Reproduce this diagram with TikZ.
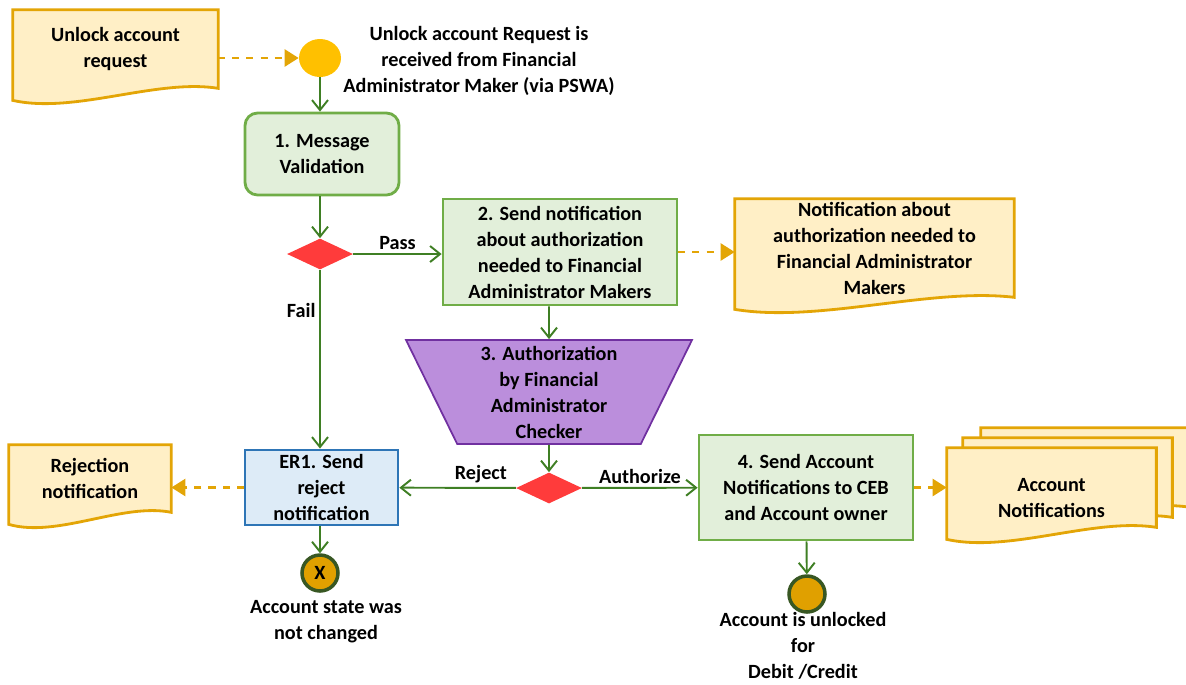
\documentclass[tikz,border=0pt]{standalone}
\usepackage{fontspec}
\setmainfont{Carlito}
\definecolor{flujoVerde}{HTML}{70AD47}
\definecolor{flujoVerdeClaro}{HTML}{E2EFDA}
\definecolor{flujoFlecha}{HTML}{3F7F24}
\definecolor{flujoOro}{HTML}{E3A506}
\definecolor{flujoCrema}{HTML}{FFEFC6}
\definecolor{flujoAzul}{HTML}{2E75B6}
\definecolor{flujoAzulClaro}{HTML}{DDEBF7}
\definecolor{flujoMorado}{HTML}{7030A0}
\definecolor{flujoLila}{HTML}{BB8EDC}
\definecolor{flujoRojo}{HTML}{FF3B3B}
\definecolor{flujoAmarillo}{HTML}{FFC000}
\definecolor{flujoOcre}{HTML}{E0A000}
\definecolor{flujoOscuro}{HTML}{385723}
\usetikzlibrary{
	arrows.meta,
	positioning,
	calc,
	shapes.geometric,
	backgrounds
}
\newcommand{\letraFlujo}{\bfseries\fontsize{11.5}{14.8}\selectfont}
\tikzset{
	paso/.style={
		draw=flujoVerde,
		line width=1.6pt,
		fill=flujoVerdeClaro,
		align=center,
		inner sep=2pt,
		font=\letraFlujo
	},
	error/.style={
		draw=flujoAzul,
		line width=1.6pt,
		fill=flujoAzulClaro,
		align=center,
		inner sep=2pt,
		font=\letraFlujo
	},
	trapecio/.style={
		trapezium,
		shape border rotate=180,
		trapezium angle=61,
		trapezium stretches body,
		minimum width=5.72cm,
		minimum height=2.08cm,
		draw=flujoMorado,
		line width=1pt,
		fill=flujoLila,
		align=center,
		inner sep=0pt,
		font=\letraFlujo
	},
	hojaCaja/.style={
		align=center,
		inner sep=0pt,
		font=\letraFlujo
	},
	hoja/.style={
		draw=flujoOro,
		line width=1.6pt,
		fill=flujoCrema
	},
	decision/.style={
		diamond,
		fill=flujoRojo,
		minimum width=1.32cm,
		minimum height=0.62cm,
		inner sep=0pt
	},
	inicio/.style={
		ellipse,
		fill=flujoAmarillo,
		minimum width=0.84cm,
		minimum height=0.76cm,
		inner sep=0pt
	},
	fin/.style={
		circle,
		draw=flujoOscuro,
		line width=2pt,
		fill=flujoOcre,
		minimum size=0.72cm,
		inner sep=0pt,
		font=\letraFlujo
	},
	etiqueta/.style={
		align=center,
		inner sep=0pt,
		font=\letraFlujo
	},
	rotulo/.style={
		font=\letraFlujo,
		text=black,
		inner sep=2pt
	},
	flecha/.style={
		-{Straight Barb[length=2mm,width=3.2mm]},
		line width=1.1pt,
		flujoFlecha
	},
	flechaDoc/.style={
		-{Triangle[length=2.8mm,width=3.4mm]},
		line width=1.4pt,
		dash pattern=on 4pt off 4pt,
		flujoOro
	}
}
% hoja con borde ondulado alrededor de un nodo
\newcommand{\hojaBorde}[1]{%
	\begin{pgfonlayer}{background}
		\draw[hoja] (#1.north west) -- (#1.north east) -- (#1.south east)
		.. controls ($(#1.south west)!0.7!(#1.south east)+(0,-10)$) and ($(#1.south west)!0.3!(#1.south east)+(0,26)$) .. ($(#1.south west)+(0,12)$) -- cycle;
	\end{pgfonlayer}}

\begin{document}
\begin{tikzpicture}[x=0.02cm, y=-0.02cm]
		\useasboundingbox (0,0) rectangle (1186,684);
		\node[hojaCaja, minimum width=4.1cm, minimum height=1.56cm] (solicitud) at (115.5,49) {Unlock account\\request};
		\node[inicio] (recibida) at (320,58) {};
		\node[etiqueta] (recibidaTxt) at (479,61) {Unlock account Request is\\received from Financial\\Administrator Maker (via PSWA)};
		\node[paso, rounded corners=2.5mm, minimum width=3.08cm, minimum height=1.64cm] (validacion) at (322,154) {1. Message\\Validation};
		\node[decision] (dec1) at (320,254) {};
		\node[paso, minimum width=4.68cm, minimum height=2.12cm] (aviso) at (560,252) {2. Send notification\\about authorization\\needed to Financial\\Administrator Makers};
		\node[hojaCaja, minimum width=5.58cm, minimum height=1.96cm] (avisoDoc) at (874.5,248) {Notification about\\authorization needed to\\Financial Administrator\\Makers};
		\node[trapecio] (autorizacion) at (549,392) {3. Authorization\\by Financial\\Administrator\\Checker};
		\node[decision] (dec2) at (549,488) {};
		\node[error, minimum width=3.06cm, minimum height=1.5cm] (rechazo) at (321.5,487.5) {ER1. Send\\reject\\notification};
		\node[hojaCaja, minimum width=3.24cm, minimum height=1.34cm] (rechazoDoc) at (90,478.5) {Rejection\\notification};
		\node[fin] (sinCambio) at (320,573) {X};
		\node[etiqueta] (sinCambioTxt) at (326,622) {Account state was\\not changed};
		\node[paso, minimum width=4.28cm, minimum height=2.1cm] (envio) at (806,487.5) {4. Send Account\\Notifications to CEB\\and Account owner};
		\node[fin] (desbloqueo) at (807,594) {};
		\node[etiqueta] (desbloqueoTxt) at (803,646) {Account is unlocked\\for\\Debit /Credit};
		\node[hojaCaja, minimum width=4.18cm, minimum height=1.58cm, text height=1.2cm] (cuentas) at (1051.5,487.5) {Account\\Notifications};
		\node[hojaCaja, minimum width=4.18cm, minimum height=1.58cm] (cuentas2) at ($(cuentas)+(16,-10)$) {};
		\node[hojaCaja, minimum width=4.18cm, minimum height=1.58cm] (cuentas3) at ($(cuentas)+(34,-20)$) {};
		\hojaBorde{solicitud}
		\hojaBorde{avisoDoc}
		\hojaBorde{rechazoDoc}
		\hojaBorde{cuentas3}
		\hojaBorde{cuentas2}
		\hojaBorde{cuentas}
		\draw[flechaDoc] (solicitud.east |- recibida) -- (recibida);
		\draw[flecha] (recibida) -- (recibida |- validacion.north);
		\draw[flecha] (validacion.south -| dec1) -- (dec1);
		\draw[flecha] (dec1) -- node[rotulo, above] {Pass} (dec1 -| aviso.west);
		\draw[flecha] (dec1) -- node[rotulo, left, pos=0.23] {Fail} (dec1 |- rechazo.north);
		\draw[flechaDoc] (aviso.east) -- (aviso.east -| avisoDoc.west);
		\draw[flecha] (aviso.south -| autorizacion) -- (autorizacion);
		\draw[flecha] (autorizacion) -- (dec2);
		\draw[flecha] (dec2) -- node[rotulo, above, pos=0.3] {Reject} (rechazo);
		\draw[flecha] (dec2) -- node[rotulo, above] {Authorize} (envio);
		\draw[flechaDoc] (rechazo) -- (rechazoDoc.east |- rechazo);
		\draw[flecha] (rechazo.south -| sinCambio) -- (sinCambio);
		\draw[flecha] (envio) -- (desbloqueo);
		\draw[flechaDoc] (envio) -- (cuentas.west |- envio);
	\end{tikzpicture}
\end{document}
